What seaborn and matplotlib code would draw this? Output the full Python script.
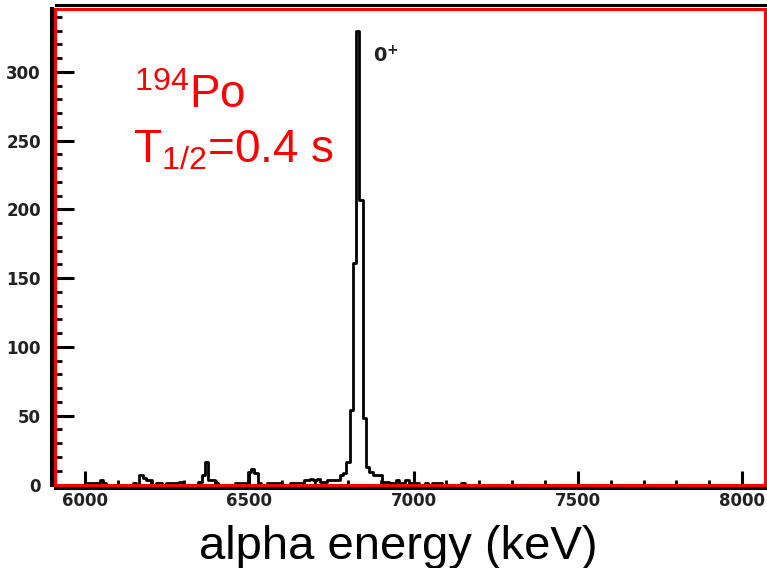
import numpy as np
import pandas as pd
import matplotlib
matplotlib.use('Agg')
import matplotlib.pyplot as plt
from matplotlib.patches import Rectangle
from matplotlib.ticker import MultipleLocator
import seaborn as sns

sns.set_theme(style='white')
plt.rcParams['font.family'] = ['Liberation Sans', 'DejaVu Sans']

# alpha spectrum, 10 keV bins (bin centres in keV), only non-empty bins listed
energy = [6010, 6020, 6030, 6040, 6050, 6060,
          6150, 6170, 6180, 6190, 6200,
          6220, 6230, 6250, 6260, 6270, 6280, 6290,
          6350, 6360, 6370, 6380, 6390, 6400,
          6460, 6470, 6480, 6490, 6500, 6510, 6520, 6530,
          6560, 6570, 6580, 6590, 6630, 6640, 6650,
          6660, 6670, 6680, 6690, 6700, 6710, 6720, 6730, 6740, 6750, 6760, 6770,
          6780, 6790, 6800, 6810, 6820, 6830, 6840, 6850, 6860, 6870, 6880, 6890,
          6900, 6910, 6920, 6930, 6940, 6950, 6960, 6970, 6980, 6990,
          7010, 7040, 7060, 7070, 7080, 7150]
counts = [1, 1, 1, 1, 3, 1,
          1, 7, 5, 3, 3,
          1, 1, 1, 1, 1, 1, 2,
          2, 7, 16, 3, 3, 1,
          1, 1, 1, 1, 9, 11, 8, 1,
          1, 1, 1, 1, 1, 1, 1,
          1, 3, 3, 4, 3, 4, 2, 2, 3, 3, 3, 3,
          7, 8, 16, 54, 161, 330, 207, 48, 13, 9, 7, 7,
          7, 2, 2, 1, 1, 3, 1, 1, 3, 1,
          1, 1, 1, 1, 1, 1]

df = pd.DataFrame({'energy': energy, 'counts': counts})

fig = plt.figure(figsize=(7.67, 5.68), dpi=100)
ax = fig.add_axes([55.5 / 767, (568 - 484.5) / 568, 709 / 767, 476 / 568])

sns.histplot(data=df, x='energy', weights='counts', binwidth=10, binrange=(5895, 8075),
             element='step', fill=False, color='black', linewidth=2, ax=ax, zorder=2)

ax.set_xlim(5910, 8068)
ax.set_ylim(0, 346)
ax.set_xlabel('')
ax.set_ylabel('')

# axis lines (black) and red frame
for s in ['left', 'bottom']:
    ax.spines[s].set_color('black')
    ax.spines[s].set_linewidth(2.9)
    ax.spines[s].set_position(('outward', 2.5))
ax.spines['top'].set_color('black')
ax.spines['top'].set_linewidth(2.2)
ax.spines['top'].set_position(('outward', 2.2))
ax.spines['right'].set_visible(False)
ax.add_patch(Rectangle((0, 0), 1, 1, transform=ax.transAxes, fill=False,
                       edgecolor='red', linewidth=2.2, clip_on=False, zorder=2.6))

ax.xaxis.set_major_locator(MultipleLocator(500))
ax.xaxis.set_minor_locator(MultipleLocator(100))
ax.yaxis.set_major_locator(MultipleLocator(50))
ax.yaxis.set_minor_locator(MultipleLocator(10))
ax.tick_params(which='both', direction='in', color='black', labelsize=12,
               labelcolor='#222222', bottom=True, left=True)
ax.tick_params(axis='y', which='major', length=16, width=2.2, pad=8)
ax.tick_params(axis='y', which='minor', length=7, width=2)
ax.tick_params(axis='x', which='major', length=12, width=2.2, pad=3)
ax.tick_params(axis='x', which='minor', length=6, width=2)
for lbl in ax.get_xticklabels() + ax.get_yticklabels():
    lbl.set_family('DejaVu Sans')
    lbl.set_fontweight('bold')

# annotations
ax.text(6148, 274, r'$\mathregular{^{194}}$Po', color='red', fontsize=33)
ax.text(6146, 234, r'T$\mathregular{_{1/2}}$=0.4 s', color='red', fontsize=33)
ax.text(6876, 307, r'0$\mathregular{^{+}}$', color='#222222', fontsize=14,
        fontweight='bold', family='DejaVu Sans')

fig.text(398 / 767, 9 / 568, 'alpha energy (keV)', ha='center', va='baseline',
         fontsize=34, color='black')

fig.savefig('out.png', dpi=100)
